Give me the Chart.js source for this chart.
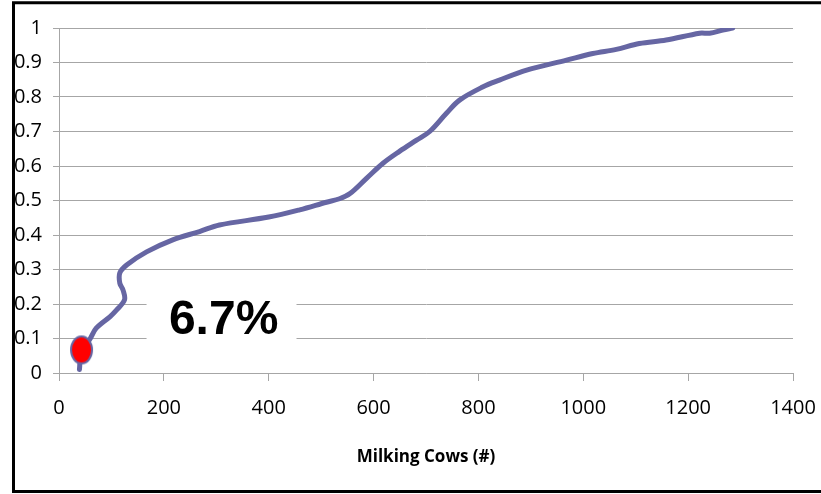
<!DOCTYPE html>
<html>
<head>
<meta charset="utf-8">
<script src="https://cdn.jsdelivr.net/npm/chart.js@4.4.1/dist/chart.umd.min.js"></script>
<style>
  html, body { margin: 0; padding: 0; background: #fff; }
  #wrap { position: relative; width: 821px; height: 494px; }
</style>
</head>
<body>
<div id="wrap"><canvas id="cowsChart" width="821" height="494"></canvas></div>
<script>
// DATI
const milkingCows = [39, 43, 58, 71, 97, 110, 125, 122, 116, 116, 129, 167, 217, 268, 306, 400, 459, 510, 535, 555, 587, 618, 650, 682, 707, 739, 764, 808, 840, 892, 968, 1018, 1063, 1107, 1158, 1222, 1241, 1266, 1285];
const cumShare = [0.01, 0.067, 0.096, 0.13, 0.163, 0.183, 0.212, 0.241, 0.26, 0.29, 0.313, 0.351, 0.386, 0.41, 0.429, 0.452, 0.473, 0.495, 0.505, 0.52, 0.565, 0.608, 0.643, 0.675, 0.70, 0.753, 0.791, 0.829, 0.849, 0.878, 0.907, 0.926, 0.938, 0.955, 0.965, 0.985, 0.985, 0.994, 1.0];
const markerCows = [43];
const markerShare = [0.067];
const markerLabel = '6.7%';
const xTitle = 'Milking Cows (#)';

const lineColor = '#6666a3';
const gridColor = '#a6a6a6';
const tickFont = { family: "'Open Sans', sans-serif", size: 20 };

// marker ellittico rosso
function makeMarker() {
  const c = document.createElement('canvas');
  c.width = 25; c.height = 31;
  const g = c.getContext('2d');
  g.beginPath();
  g.ellipse(12.5, 15.5, 10.5, 13.5, 0, 0, Math.PI * 2);
  g.fillStyle = '#ff0000';
  g.fill();
  g.lineWidth = 2;
  g.strokeStyle = lineColor;
  g.stroke();
  return c;
}

// riquadro con testo + cornice
const annotationPlugin = {
  id: 'annot',
  beforeDatasetsDraw(chart) {
    const { ctx, scales: { x, y } } = chart;
    const x0 = x.getPixelForValue(167), x1 = x.getPixelForValue(453);
    const y0 = y.getPixelForValue(0.241), y1 = y.getPixelForValue(0.05);
    ctx.save();
    ctx.fillStyle = '#fff';
    ctx.fillRect(x0, y0, x1 - x0, y1 - y0);
    ctx.fillStyle = '#000';
    ctx.font = "bold 48px 'Liberation Sans', Arial, sans-serif";
    ctx.textAlign = 'center';
    ctx.textBaseline = 'middle';
    ctx.fillText(markerLabel, x.getPixelForValue(314), y.getPixelForValue(0.151));
    ctx.restore();
  },
  afterDraw(chart) {
    const ctx = chart.ctx;
    ctx.save();
    ctx.lineWidth = 3;
    ctx.strokeStyle = '#000';
    ctx.strokeRect(13.5, 2.75, 820, 488.75);
    ctx.restore();
  }
};

new Chart(document.getElementById('cowsChart'), {
  type: 'scatter',
  data: {
    datasets: [
      {
        data: milkingCows.map((v, i) => ({ x: v, y: cumShare[i] })),
        showLine: true,
        borderColor: lineColor,
        borderWidth: 5,
        borderCapStyle: 'round',
        borderJoinStyle: 'round',
        tension: 0.35,
        pointRadius: 0,
        order: 2
      },
      {
        data: markerCows.map((v, i) => ({ x: v, y: markerShare[i] })),
        pointStyle: makeMarker(),
        pointRadius: 12,
        order: 1
      }
    ]
  },
  options: {
    responsive: false,
    animation: false,
    devicePixelRatio: 1,
    layout: { padding: { left: 0, top: 28, right: 28, bottom: 0 } },
    plugins: { legend: { display: false }, tooltip: { enabled: false } },
    scales: {
      x: {
        type: 'linear',
        min: 0, max: 1400,
        ticks: { stepSize: 200, color: '#000', font: tickFont, padding: 15, maxRotation: 0,
          callback: v => String(v) },
        grid: { drawOnChartArea: false, drawTicks: true, tickLength: 8, color: gridColor },
        border: { color: gridColor },
        title: {
          display: true, text: xTitle, color: '#000',
          font: { family: "'Open Sans', sans-serif", size: 17, weight: 'bold' },
          padding: { top: 0, bottom: 27 }
        },
        afterFit(scale) { scale.height = 121; scale.paddingRight = 0; scale.paddingLeft = 0; }
      },
      y: {
        min: 0, max: 1,
        ticks: { stepSize: 0.1, color: '#000', font: tickFont, padding: 11,
          callback: v => String(+v.toFixed(1)) },
        grid: { color: gridColor, tickLength: 6 },
        border: { color: gridColor },
        afterFit(scale) { scale.width = 59; }
      }
    }
  },
  plugins: [annotationPlugin]
});
</script>
</body>
</html>
